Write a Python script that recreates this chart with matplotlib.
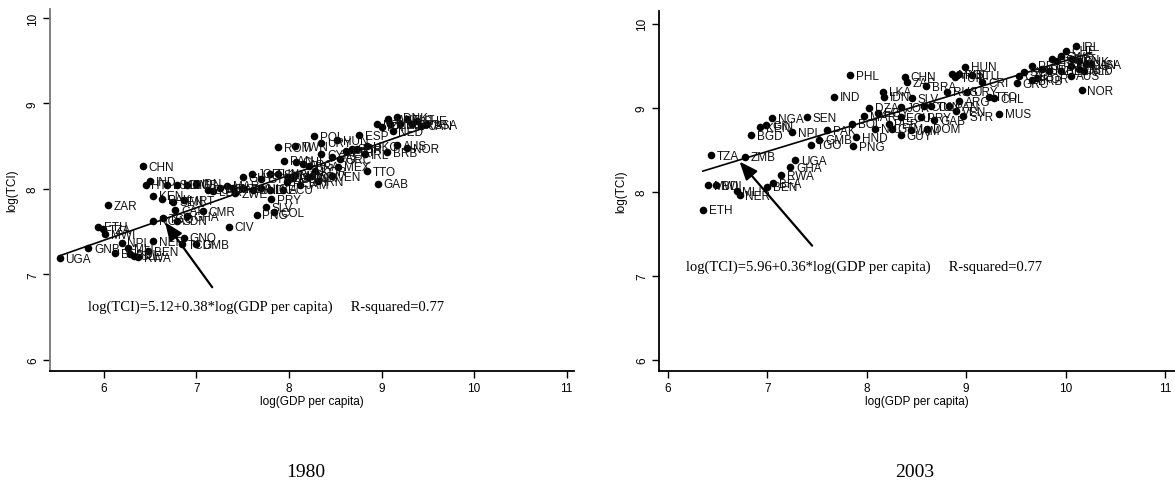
import matplotlib
matplotlib.use("Agg")
import matplotlib.pyplot as plt
import numpy as np

# ---- 1980 cross-section: log GDP per capita vs log TCI ----
codes_1980 = ["UGA", "GNB", "ZAR", "ETH", "TZA", "MWI", "BFA", "NPL", "MLI", "BDI",
              "SLE", "RWA", "BEN", "NER", "TCD", "GMB", "GNQ", "NGA", "TGO", "SDN",
              "GHA", "CAF", "CMR", "CIV", "CHN", "IND", "HTI", "LSO", "MDG", "ZMB",
              "IDN", "KEN", "PAK", "SEN", "MRT", "EGY", "LBR", "BOL", "PHL", "THA",
              "HND", "NIC", "LKA", "GUY", "JOR", "TUN", "SYR", "DZA", "MYS", "TUR",
              "CRI", "IRN", "ECU", "PRY", "SLV", "COL", "PNG", "ROM", "TWN", "PAN",
              "POL", "URY", "HUN", "ESP", "CHL", "ARG", "BRA", "MEX", "ZAF", "CYP",
              "KOR", "VEN", "GRC", "PRT", "SGP", "ISR", "HKG", "IRL", "BRB", "AUS",
              "NOR", "TTO", "GAB", "NED", "NZL", "ITA", "SWE", "FIN", "DNK", "BEL",
              "AUT", "FRA", "CHE", "CAN", "USA", "PER", "DOM", "GTM", "MAR", "JAM",
              "ZWE"]
gdp_1980 = [5.52, 5.83, 6.04, 5.94, 5.99, 6.01, 6.12, 6.19, 6.26, 6.28,
            6.33, 6.37, 6.48, 6.53, 6.84, 7.00, 6.86, 6.53, 6.64, 6.79,
            6.90, 6.77, 7.07, 7.35, 6.42, 6.50, 6.45, 6.68, 6.79, 6.90,
            7.00, 6.53, 6.63, 6.75, 6.86, 7.12, 7.18, 7.25, 7.39, 7.50,
            7.61, 7.70, 7.79, 7.50, 7.60, 7.79, 7.88, 7.99, 8.06, 8.20,
            8.25, 8.31, 7.93, 7.81, 7.75, 7.84, 7.65, 7.88, 8.07, 7.95,
            8.27, 8.35, 8.52, 8.76, 8.08, 8.15, 8.22, 8.53, 8.47, 8.35,
            8.28, 8.46, 8.55, 8.62, 8.68, 8.73, 8.84, 8.82, 9.06, 9.17,
            9.28, 8.84, 8.96, 9.12, 8.95, 9.00, 9.07, 9.09, 9.17, 9.20,
            9.27, 9.33, 9.38, 9.43, 9.49, 7.98, 8.04, 7.70, 7.33, 8.12,
            7.42]
tci_1980 = [7.19, 7.31, 7.81, 7.56, 7.53, 7.47, 7.25, 7.37, 7.31, 7.24,
            7.22, 7.20, 7.27, 7.39, 7.35, 7.35, 7.43, 7.63, 7.66, 7.63,
            7.68, 7.75, 7.74, 7.56, 8.27, 8.09, 8.05, 8.05, 8.05, 8.05,
            8.06, 7.92, 7.88, 7.85, 7.87, 7.99, 7.97, 8.01, 8.01, 8.01,
            7.99, 8.01, 7.99, 8.14, 8.18, 8.18, 8.17, 8.14, 8.16, 8.14,
            8.15, 8.09, 7.99, 7.88, 7.79, 7.73, 7.70, 8.49, 8.50, 8.33,
            8.62, 8.54, 8.57, 8.63, 8.32, 8.29, 8.27, 8.26, 8.37, 8.41,
            8.21, 8.15, 8.35, 8.44, 8.47, 8.47, 8.50, 8.41, 8.43, 8.51,
            8.48, 8.21, 8.06, 8.68, 8.76, 8.73, 8.82, 8.76, 8.84, 8.76,
            8.82, 8.76, 8.80, 8.74, 8.76, 8.08, 8.13, 8.12, 8.04, 8.05,
            7.95]

# ---- 2003 cross-section ----
codes_2003 = ["PHL", "CHN", "ZAF", "BRA", "RUS", "IND", "LKA", "IDN", "SLV", "DZA",
              "JOR", "COL", "NGA", "SEN", "KEN", "GIN", "BGD", "NPL", "PAK", "BOL",
              "MAR", "EGY", "GMB", "TGO", "HND", "PNG", "NIC", "PER", "GTM", "ECU",
              "GUY", "JAM", "PRY", "DOM", "GAB", "SYR", "MUS", "TZA", "ZMB", "UGA",
              "GHA", "RWA", "BFA", "BEN", "MWI", "BDI", "MLI", "NER", "ETH", "HUN",
              "MYS", "POL", "LTU", "TUR", "CRI", "URY", "ARG", "TTO", "CHL", "TUN",
              "PAN", "VEN", "GRC", "BRB", "CZE", "SVN", "PRT", "KOR", "ISR", "NZL",
              "ESP", "ITA", "SWE", "CHE", "IRL", "FIN", "JPN", "DNK", "CAN", "USA",
              "AUS", "NOR", "GBR", "NLD", "BEL"]
gdp_2003 = [7.83, 8.38, 8.40, 8.60, 8.81, 7.67, 8.16, 8.17, 8.45, 8.02,
            8.34, 8.58, 7.05, 7.40, 6.93, 6.99, 6.84, 7.25, 7.60, 7.85,
            7.97, 8.11, 7.52, 7.44, 7.89, 7.86, 8.08, 8.22, 8.25, 8.34,
            8.34, 8.44, 8.55, 8.61, 8.68, 8.97, 9.33, 6.43, 6.77, 7.28,
            7.23, 7.14, 7.06, 7.00, 6.40, 6.48, 6.69, 6.72, 6.35, 8.99,
            8.86, 8.93, 9.06, 8.89, 9.16, 9.01, 8.93, 9.23, 9.28, 8.65,
            8.83, 8.90, 9.51, 9.66, 9.53, 9.58, 9.66, 9.71, 9.76, 9.83,
            9.86, 9.91, 9.95, 10.00, 10.10, 10.05, 10.06, 10.13, 10.20, 10.26,
            10.05, 10.16, 10.13, 10.18, 9.95]
tci_2003 = [9.39, 9.37, 9.30, 9.26, 9.19, 9.13, 9.19, 9.13, 9.11, 9.00,
            9.01, 9.02, 8.88, 8.89, 8.77, 8.79, 8.67, 8.71, 8.73, 8.81,
            8.90, 8.94, 8.62, 8.56, 8.65, 8.54, 8.75, 8.81, 8.75, 8.89,
            8.67, 8.73, 8.89, 8.75, 8.85, 8.90, 8.93, 8.44, 8.42, 8.38,
            8.29, 8.20, 8.10, 8.06, 8.08, 8.08, 8.01, 7.96, 7.79, 9.49,
            9.40, 9.40, 9.39, 9.36, 9.30, 9.19, 9.08, 9.13, 9.11, 9.02,
            9.02, 8.96, 9.29, 9.33, 9.38, 9.43, 9.50, 9.35, 9.46, 9.44,
            9.58, 9.55, 9.61, 9.68, 9.73, 9.50, 9.58, 9.55, 9.52, 9.52,
            9.38, 9.21, 9.46, 9.44, 9.44]

# Fitted regressions: log(TCI) = a + b * log(GDP per capita)
fit_1980 = (5.12, 0.38, 0.77)
fit_2003 = (5.96, 0.36, 0.77)

years = ["1980", "2003"]
x_ticks = [6, 7, 8, 9, 10, 11]
y_ticks = [6, 7, 8, 9, 10]

SANS = ["Liberation Sans", "DejaVu Sans"]
SERIF = ["Liberation Serif", "DejaVu Serif"]
plt.rcParams["font.family"] = SANS

W, H = 1175, 489
fig = plt.figure(figsize=(W / 100, H / 100), dpi=100)
fig.patch.set_facecolor("white")


def px_axes(left, top, right, bottom):
    return fig.add_axes([left / W, 1 - bottom / H, (right - left) / W, (bottom - top) / H])


def panel(ax, codes, gdp, tci, fit, xlim, ylim, eq_pos, arrow_tail, arrow_tip,
          yspine_color):
    a, b, r2 = fit
    ax.set_xlim(*xlim)
    ax.set_ylim(*ylim)
    ax.scatter(gdp, tci, s=30, color="black", zorder=2, linewidths=0)
    for c, x, y in zip(codes, gdp, tci):
        ax.annotate(c, (x, y), xytext=(4.2, -0.5), textcoords="offset points",
                    ha="left", va="center", fontsize=8.5, color="#111111",
                    family=SANS, zorder=4)
    xs = np.array([min(gdp), max(gdp)])
    ax.plot(xs, a + b * xs, color="black", lw=1.2, zorder=3)
    ax.annotate("", xy=arrow_tip, xytext=arrow_tail,
                arrowprops=dict(arrowstyle="-|>,head_length=1.1,head_width=0.45",
                                color="black", lw=1.6, shrinkA=0, shrinkB=0),
                zorder=5)
    ax.text(eq_pos[0], eq_pos[1],
            f"log(TCI)={a:.2f}+{b:.2f}*log(GDP per capita)     R-squared={r2:.2f}",
            family=SERIF, fontsize=10.5, ha="left", va="center")
    for s in ["top", "right"]:
        ax.spines[s].set_visible(False)
    ax.spines["left"].set_color(yspine_color)
    ax.spines["left"].set_linewidth(1.3)
    ax.spines["bottom"].set_linewidth(1.3)
    ax.set_xticks(x_ticks)
    ax.set_yticks(y_ticks)
    ax.tick_params(axis="both", direction="out", length=5, width=1.0,
                   labelsize=8.5, pad=3)
    for lab in ax.get_yticklabels():
        lab.set_rotation(90)
        lab.set_va("center")


axL = px_axes(50, 10, 574, 372)
panel(axL, codes_1980, gdp_1980, tci_1980, fit_1980,
      xlim=(5.417, 11.08), ylim=(5.87, 10.105),
      eq_pos=(5.83, 6.63), arrow_tail=(7.17, 6.85), arrow_tip=(6.66, 7.61),
      yspine_color="#777777")

axR = px_axes(659, 12, 1175, 372)
panel(axR, codes_2003, gdp_2003, tci_2003, fit_2003,
      xlim=(5.91, 11.10), ylim=(5.87, 10.15),
      eq_pos=(6.18, 7.12), arrow_tail=(7.45, 7.36), arrow_tip=(6.72, 8.36),
      yspine_color="black")

# axis titles and year captions
for ax, ylab_x, year in [(axL, 12, years[0]), (axR, 621, years[1])]:
    bb = ax.get_position()
    cx = (bb.x0 + bb.x1) / 2
    fig.text(cx, 1 - 402 / H, "log(GDP per capita)", ha="center", va="center",
             fontsize=8.5, family=SANS)
    fig.text(ylab_x / W, (bb.y0 + bb.y1) / 2, "log(TCI)", rotation=90,
             ha="center", va="center", fontsize=8.5, family=SANS)

fig.text(306 / W, 1 - 473 / H, years[0], ha="center", va="center",
         fontsize=14, family=SERIF)
fig.text(915 / W, 1 - 473 / H, years[1], ha="center", va="center",
         fontsize=14, family=SERIF)

fig.savefig("out.png", dpi=100, facecolor="white")
